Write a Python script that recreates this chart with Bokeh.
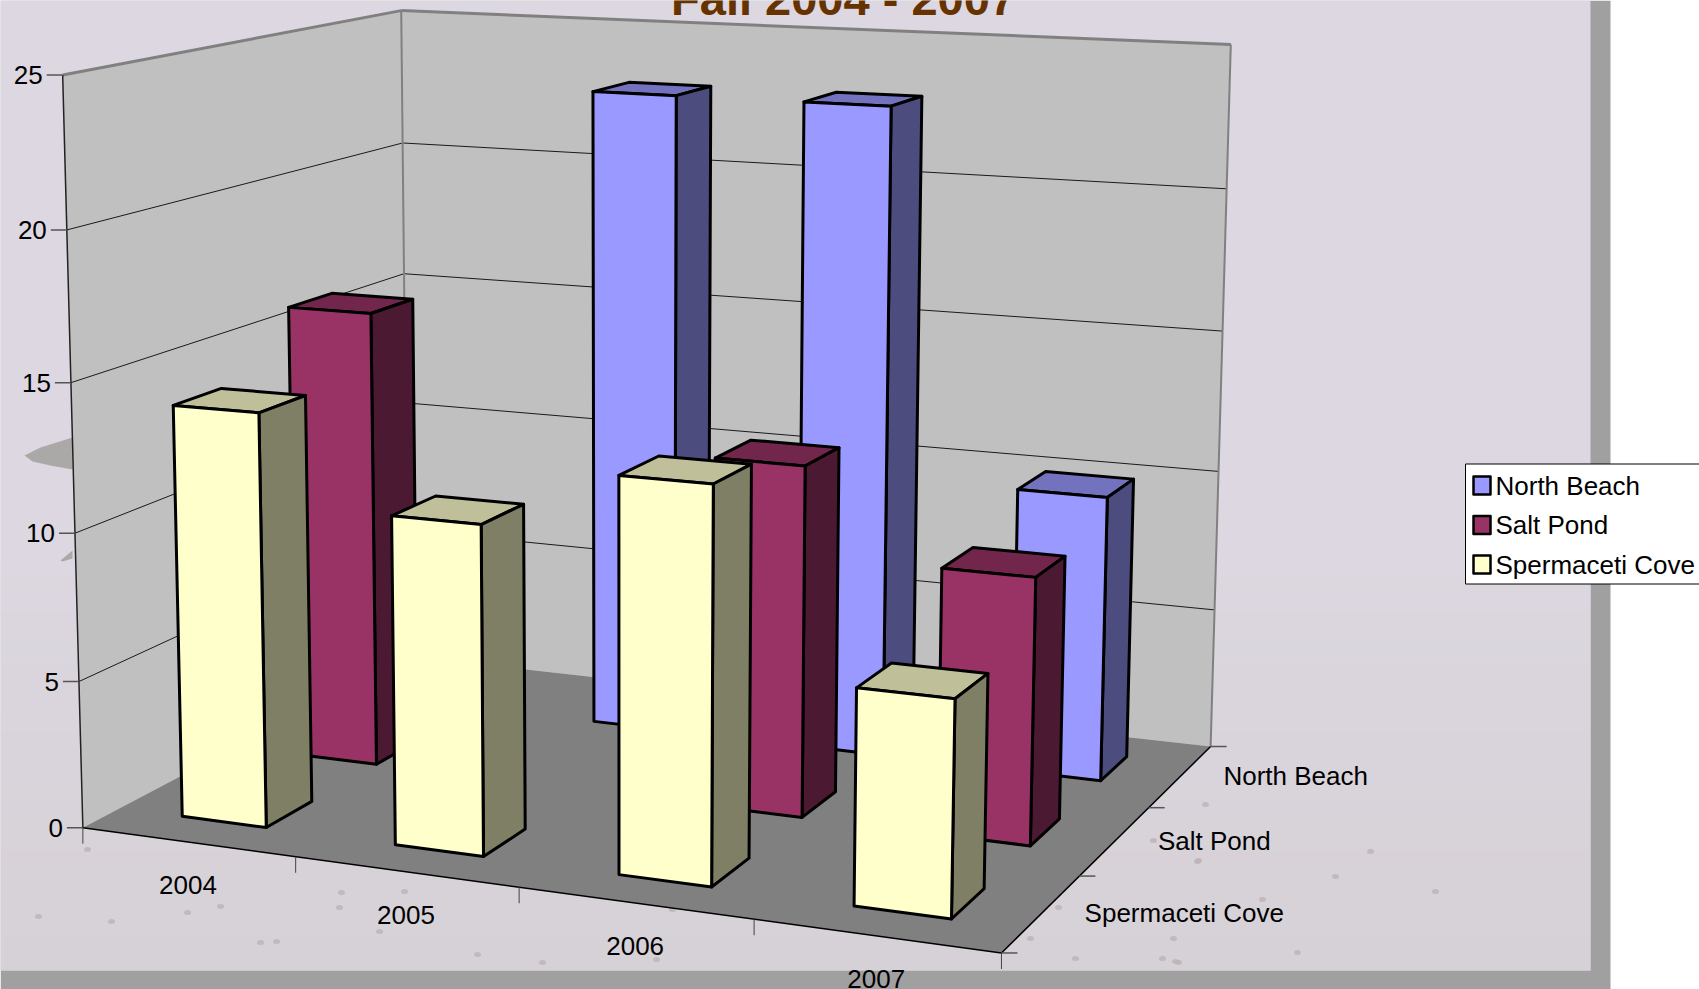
import numpy as np
from bokeh.plotting import figure
from bokeh.models import Range1d
from bokeh.embed import file_html
from bokeh.resources import INLINE
from bokeh.core.properties import value

W, H = 1699, 989
title = "Fall 2004 - 2007"
years = ["2004", "2005", "2006", "2007"]
series_names = ["North Beach", "Salt Pond", "Spermaceti Cove"]
north_beach = [None, 23, 23, 10]
salt_pond = [16, None, 12, 9]
spermaceti = [14, 11, 13, 7]
y_ticks = [0, 5, 10, 15, 20, 25]
front = ["#9999FF", "#993366", "#FFFFCC"]
FONT = value("Liberation Sans")
FS = "26px"

# camera calibration: (X along years, Z depth, Y value) -> picture position
cal = [
 (0,0,0,82.4,827),(0,0,5,79,681),(0,0,10,75,532),(0,0,15,70,382),(0,0,20,66,230),(0,0,25,62.3,74.7),
 (1,0,0,295,857),(2,0,0,518,887),(3,0,0,753,919),(4,0,0,1000,952),
 (4,1,0,1080,875),(4,2,0,1151,807),(4,3,0,1210,745),(4,3,5,1213,610),(4,3,10,1217.5,472),
 (4,3,15,1221,331),(4,3,20,1226,189),(4,3,25,1231,43),
 (0,3,25,401,9.3),(0,3,20,402,143),(0,3,15,404,273),(0,3,0,407,656),
]
A = []
for X, Z, Y, u, v in cal:
    A.append([X,Z,Y,1,0,0,0,0,-u*X,-u*Z,-u*Y,-u])
    A.append([0,0,0,0,X,Z,Y,1,-v*X,-v*Z,-v*Y,-v])
M = np.linalg.svd(np.array(A, float))[2][-1].reshape(3, 4)

def P(X, Z, Y):
    h = M @ np.array([X, Z, Y, 1.0])
    return float(h[0] / h[2]), float(h[1] / h[2])

def shade(c, f):
    r, g, b = int(c[1:3], 16), int(c[3:5], 16), int(c[5:7], 16)
    return "#%02X%02X%02X" % (int(r * f), int(g * f), int(b * f))

p = figure(width=W, height=H, output_backend="svg", toolbar_location=None,
           x_range=Range1d(0, W), y_range=Range1d(H, 0),
           min_border=0, outline_line_color=None, background_fill_color="white",
           border_fill_color="white")
p.axis.visible = False
p.grid.visible = False

def poly(pts, fill, line=None, lw=1):
    xs, ys = zip(*pts)
    p.patch(list(xs), list(ys), fill_color=fill, line_color=line, line_width=lw, line_join="round")

def seg(a, b, color="#000000", lw=1):
    p.line([a[0], b[0]], [a[1], b[1]], line_color=color, line_width=lw)

# page background and shadow band
poly([(0, 0), (1610, 0), (1610, H), (0, H)], "#A0A0A0")
poly([(0, 0), (1590, 0), (1590, 970), (0, 970)], "#DCD7E0")
n = 24
edges = np.linspace(560, 970, n + 1)
c0, c1 = np.array([0xDC, 0xD7, 0xE0]), np.array([0xD6, 0xD1, 0xD6])
strip_cols = ["#%02X%02X%02X" % tuple(int(round(a)) for a in c0 + (c1 - c0) * (j + 1) / n) for j in range(n)]
p.quad(left=0, right=1590, top=edges[:-1], bottom=edges[1:], fill_color=strip_cols, line_color=None)
sand_x = [87,111,38,187,220,341,404,339,379,260,276,477,672,542,656,1058,1030,1075,1162,1178,1173,1198,1153,1205,1335,1370,1297,1197,1175,1435,1262]
sand_y = [849,921,916,912,906,892,891,907,931,942,941,954,909,962,959,907,938,958,958,962,938,860,840,804,876,851,952,861,961,891,899]
p.ellipse(sand_x, sand_y, width=7, height=5, fill_color="#BDB3B6", line_color=None, fill_alpha=0.8)
poly([(24,455),(40,447),(72,437),(72,469),(50,465),(32,461)], "#ABA8A8")
poly([(60,560),(72,550),(72,558),(62,561)], "#ABA8A8")

# walls and floor
poly([P(0,0,0), P(0,3,0), P(0,3,25), P(0,0,25)], "#C0C0C0")
poly([P(0,3,0), P(4,3,0), P(4,3,25), P(0,3,25)], "#C0C0C0")
poly([P(0,0,0), P(4,0,0), P(4,3,0), P(0,3,0)], "#808080")

for t in y_ticks[1:-1]:
    seg(P(0,0,t), P(0,3,t), "#1A1A1A", 1)
    seg(P(0,3,t), P(4,3,t), "#1A1A1A", 1)
seg(P(0,0,25), P(0,3,25), "#808080", 3)
seg(P(0,3,25), P(4,3,25), "#808080", 3)
seg(P(0,3,25), P(0,3,0), "#808080", 2)
seg(P(4,3,25), P(4,3,0), "#808080", 2)
seg(P(0,0,0), P(0,0,25), "#222222", 1.5)
seg(P(0,0,0), P(4,0,0), "#000000", 1.5)
seg(P(4,0,0), P(4,3,0), "#000000", 1.5)

# ticks and tick labels
for t in y_ticks:
    u, v = P(0, 0, t)
    seg((u - 16, v), (u, v), "#555555", 1.5)
p.text([P(0,0,t)[0] - 20 for t in y_ticks], [P(0,0,t)[1] for t in y_ticks],
       text=[str(t) for t in y_ticks], text_font=FONT, text_font_size=FS,
       text_align="right", text_baseline="middle", text_color="#000000")
for i in range(5):
    u, v = P(i, 0, 0)
    seg((u, v), (u, v + 16), "#444444", 1)
for i, y in enumerate(years):
    u, v = P(i + .5, 0, 0)
    p.text([u], [v + 43], text=[y], text_font=FONT, text_font_size=FS,
           text_align="center", text_baseline="middle", text_color="#000000")
for k in range(4):
    u, v = P(4, k, 0)
    seg((u, v), (u + 16, v), "#555555", 1.5)
for k, name in enumerate(series_names):
    u, v = P(4, 2.5 - k, 0)
    p.text([u + 43], [v], text=[name], text_font=FONT, text_font_size=FS,
           text_align="left", text_baseline="middle", text_color="#000000")

# bars, back row first, left to right
BW = 0.2
rows = [north_beach, salt_pond, spermaceti]
for k, row in enumerate(rows):
    zc = 2.5 - k
    for i, val in enumerate(row):
        if val is None:
            continue
        x0, x1 = i + .5 - BW, i + .5 + BW
        z0, z1 = zc - BW, zc + BW
        c = front[k]
        poly([P(x0,z0,val), P(x1,z0,val), P(x1,z1,val), P(x0,z1,val)], shade(c, .75), "#000000", 3)
        poly([P(x1,z0,0), P(x1,z1,0), P(x1,z1,val), P(x1,z0,val)], shade(c, .5), "#000000", 3)
        poly([P(x0,z0,0), P(x1,z0,0), P(x1,z0,val), P(x0,z0,val)], c, "#000000", 3)

# title, cut by the top edge as in the reference
p.text([843], [-2.5], text=[title], text_font=FONT, text_font_size="47px", text_font_style="bold",
       text_align="center", text_baseline="alphabetic", text_color="#663300")

# legend
poly([(1465, 463.5), (1710, 463.5), (1710, 583.5), (1465, 583.5)], "#FFFFFF", "#000000", 1)
for k, name in enumerate(series_names):
    y = 485 + k * 39.5
    poly([(1473, y - 9), (1490, y - 9), (1490, y + 9), (1473, y + 9)], front[k], "#000000", 2.5)
    p.text([1495], [y], text=[name], text_font=FONT, text_font_size=FS,
           text_align="left", text_baseline="middle", text_color="#000000")

open("out.html", "w").write(file_html(p, INLINE))
